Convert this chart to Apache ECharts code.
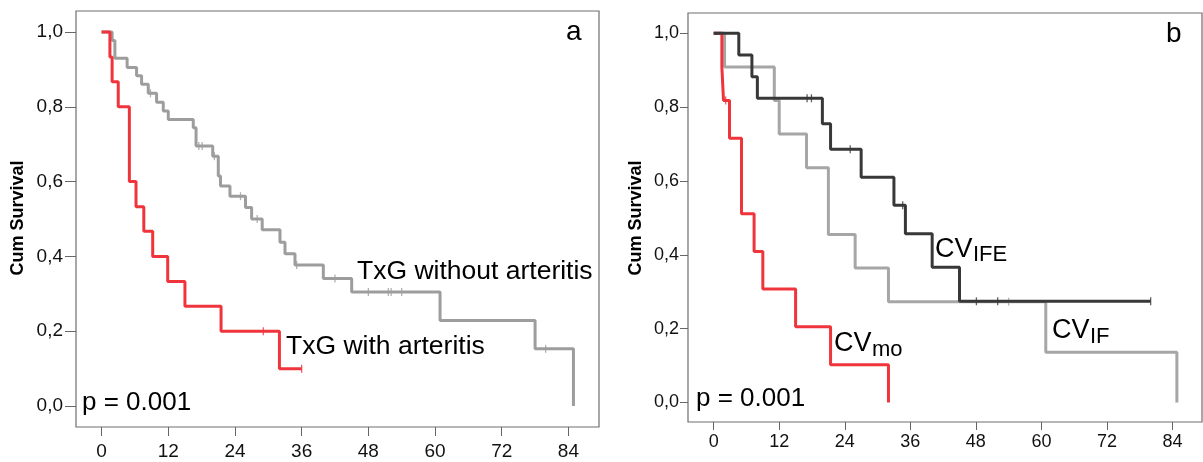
<!DOCTYPE html>
<html>
<head>
<meta charset="utf-8">
<script src="https://cdn.jsdelivr.net/npm/echarts@6/dist/echarts.min.js"></script>
<style>
  html, body { margin: 0; padding: 0; background: #fff; }
  #chart { width: 1203px; height: 462px; }
</style>
</head>
<body>
<div id="chart"></div>
<script>
// tick labels
const xTicks = [0, 12, 24, 36, 48, 60, 72, 84]
const yTicks = [0, 0.2, 0.4, 0.6, 0.8, 1.0]

// panel a: TxG with arteritis
const withTime = [0, 1.5, 1.9, 3.0, 5.0, 6.2, 7.6, 9.2, 11.9, 15.0, 21.5, 32.0, 36.0]
const withSurv = [1.0, 0.933, 0.867, 0.8, 0.6, 0.533, 0.467, 0.4, 0.333, 0.267, 0.2, 0.1, 0.1]
const withCensor = [29.1, 36.0]

// panel a: TxG without arteritis
const withoutTime = [0, 1.9, 2.4, 4.6, 6.3, 7.2, 8.4, 9.9, 11.1, 12.0, 16.5, 17.0, 20.0, 21.0, 21.4, 23.1, 25.9, 27.0, 28.9, 32.1, 33.0, 34.8, 39.9, 45.0, 60.9, 78.0, 84.9]
const withoutSurv = [1.0, 0.977, 0.93, 0.905, 0.883, 0.86, 0.836, 0.812, 0.789, 0.766, 0.744, 0.695, 0.668, 0.615, 0.588, 0.561, 0.531, 0.5, 0.471, 0.438, 0.407, 0.377, 0.341, 0.305, 0.229, 0.153, 0.0]
const withoutCensor = [8.8, 17.5, 18.1, 20.3, 25.0, 28.0, 35.1, 42.0, 48.0, 51.6, 52.1, 54.0, 79.9]

// panel b: CVmo
const moTime = [0, 1.5, 1.8, 2.9, 5.1, 7.4, 9.0, 15.0, 21.4, 32.0]
const moSurv = [1.0, 0.909, 0.818, 0.716, 0.511, 0.409, 0.307, 0.205, 0.102, 0.0]
const moCensor = [2.2]

// panel b: CVIF
const ifTime = [0, 2.0, 11.1, 12.0, 17.0, 21.0, 25.9, 32.0, 60.8, 84.8]
const ifSurv = [1.0, 0.909, 0.818, 0.727, 0.636, 0.455, 0.364, 0.273, 0.136, 0.0]
const ifCensor = [54.0]

// panel b: CVIFE
const ifeTime = [0, 4.6, 7.0, 8.0, 19.9, 21.4, 27.0, 33.0, 35.1, 40.0, 45.0, 80.0]
const ifeSurv = [1.0, 0.941, 0.882, 0.824, 0.755, 0.686, 0.610, 0.534, 0.457, 0.366, 0.274, 0.274]
const ifeCensor = [17.1, 17.9, 25.0, 34.6, 48.1, 52.0, 80.0]

const RED = '#f0343c'
const GRAY = '#9d9d9d'
const LGRAY = '#a6a6a6'
const DARK = '#383838'
const FONT = "'Liberation Sans', Arial, sans-serif"

const pairs = (t, s) => t.map((v, i) => [v, s[i]])

const censorPoints = (t, s, c) => c.map(ct => {
  let v = s[0]
  for (let i = 0; i < t.length; i++) if (t[i] <= ct) v = s[i]
  return [ct, v]
})

const curve = (idx, t, s, color, z) => ({
  type: 'line', xAxisIndex: idx, yAxisIndex: idx, step: 'end',
  data: pairs(t, s), showSymbol: false, silent: true, z,
  lineStyle: { color, width: 3 }
})

const censors = (idx, t, s, c, color, z) => ({
  type: 'scatter', xAxisIndex: idx, yAxisIndex: idx, silent: true, z,
  data: censorPoints(t, s, c), symbol: 'rect', symbolSize: [1.3, 8],
  itemStyle: { color, opacity: 0.8 }
})

const xAxis = (idx, min, max, margin, fs, tickLen) => ({
  type: 'value', gridIndex: idx, min, max,
  axisLine: { show: false, onZero: false },
  splitLine: { show: false },
  axisTick: { show: true, length: tickLen, customValues: xTicks, lineStyle: { color: '#666' } },
  axisLabel: { customValues: xTicks, margin, fontSize: fs, fontFamily: FONT, color: '#111' }
})

const yAxis = (idx, min, max, margin, fs, tickLen) => ({
  type: 'value', gridIndex: idx, min, max,
  axisLine: { show: false, onZero: false },
  splitLine: { show: false },
  axisTick: { show: true, length: tickLen, customValues: yTicks, lineStyle: { color: '#666' } },
  axisLabel: {
    customValues: yTicks, margin, fontSize: fs, fontFamily: FONT, color: '#111',
    formatter: v => v.toFixed(1).replace('.', ',')
  }
})

const txt = (text, x, y, size) => ({
  type: 'text', x, y, silent: true,
  style: { text, font: size + 'px ' + FONT, fill: '#000', textAlign: 'left', textVerticalAlign: 'middle' }
})

const yTitle = (x, y) => ({
  type: 'text', x, y, rotation: Math.PI / 2, silent: true,
  style: { text: 'Cum Survival', font: 'bold 18px ' + FONT, fill: '#000', textAlign: 'center', textVerticalAlign: 'middle' }
})

const chart = echarts.init(document.getElementById('chart'))

chart.setOption({
  animation: false,
  grid: [
    { left: 76, top: 11, width: 523, height: 416, show: true, borderColor: '#6e6e6e', borderWidth: 1.2 },
    { left: 688, top: 13, width: 514, height: 409, show: true, borderColor: '#6e6e6e', borderWidth: 1.2 }
  ],
  xAxis: [
    xAxis(0, -4.6, 89.5, 15, 19, 9),
    xAxis(1, -4.7, 89.4, 11, 18, 8)
  ],
  yAxis: [
    yAxis(0, -0.056, 1.056, 13, 19, 11),
    yAxis(1, -0.053, 1.055, 9, 18, 8)
  ],
  series: [
    curve(0, withoutTime, withoutSurv, GRAY, 2),
    censors(0, withoutTime, withoutSurv, withoutCensor, GRAY, 3),
    curve(0, withTime, withSurv, RED, 4),
    censors(0, withTime, withSurv, withCensor, RED, 5),
    curve(1, ifTime, ifSurv, LGRAY, 2),
    censors(1, ifTime, ifSurv, ifCensor, LGRAY, 3),
    curve(1, moTime, moSurv, RED, 4),
    censors(1, moTime, moSurv, moCensor, RED, 5),
    curve(1, ifeTime, ifeSurv, DARK, 6),
    censors(1, ifeTime, ifeSurv, ifeCensor, DARK, 7)
  ],
  graphic: [
    yTitle(18, 218),
    yTitle(636, 218),
    txt('a', 566, 32, 28),
    txt('b', 1166, 34, 28),
    txt('TxG without arteritis', 357, 272, 26.5),
    txt('TxG with arteritis', 286, 347, 26.5),
    txt('p = 0.001', 82, 403, 26),
    txt('p = 0.001', 696, 399, 26),
    txt('CV', 935, 250, 27),
    txt('IFE', 973, 255, 22),
    txt('CV', 1052, 331, 27),
    txt('IF', 1090, 337, 22),
    txt('CV', 834, 344, 27),
    txt('mo', 872, 350, 22)
  ]
})
</script>
</body>
</html>
